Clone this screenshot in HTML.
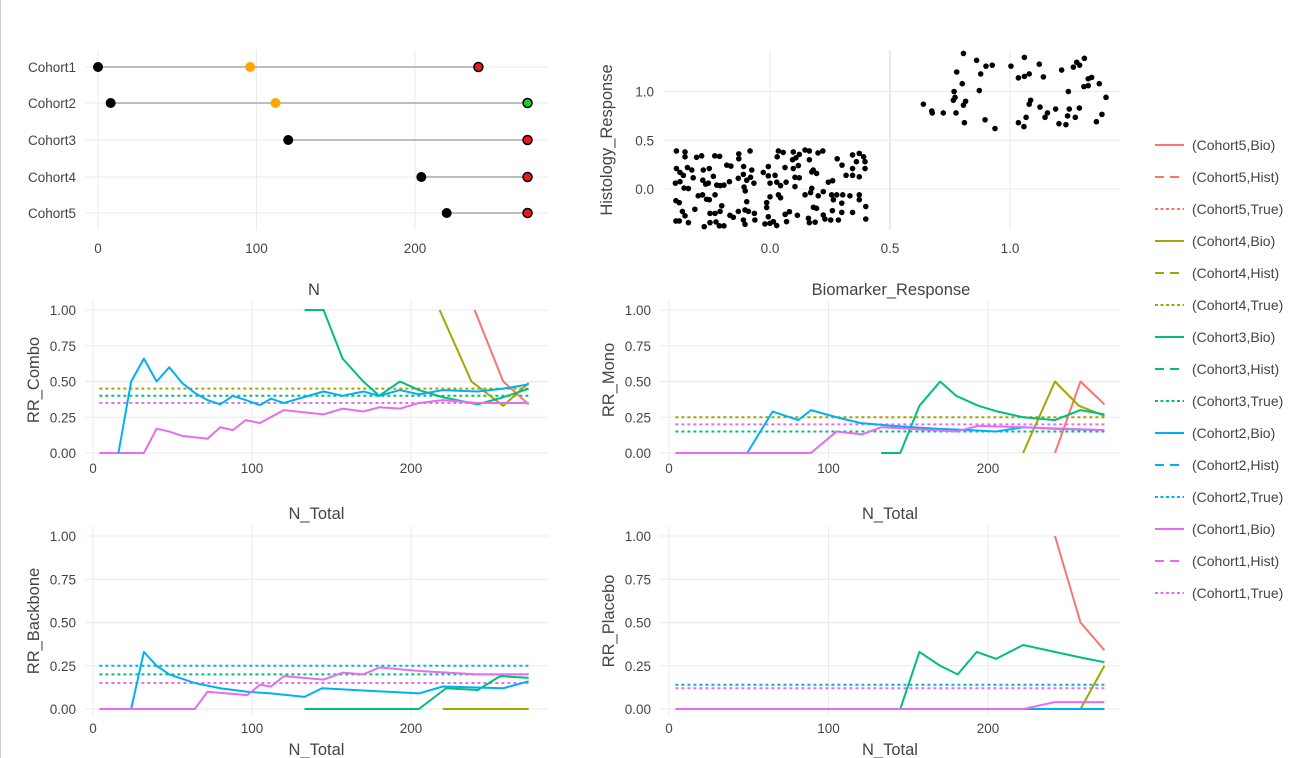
<!DOCTYPE html>
<html><head><meta charset="utf-8">
<style>
html,body{margin:0;padding:0;background:#fff;}
svg{display:block;font-family:"Liberation Sans",sans-serif;}
.tick{fill:#444;font-size:13.5px;}
.ttl{fill:#444;font-size:16.5px;}
.leg{fill:#444;font-size:14px;}
</style></head>
<body>
<svg id="c" width="1300" height="758" viewBox="0 0 1300 758">
<line x1="0.5" y1="0" x2="0.5" y2="758" stroke="#ccc"/>
<g id="g"></g>
</svg>
<script>
// ---------- data ----------
const cohorts = ["Cohort1","Cohort2","Cohort3","Cohort4","Cohort5"];
const lolStart = [0, 8, 120, 204, 220];
const lolMid = [96, 112, null, null, null];
const lolEnd = [240, 271, 271, 271, 271];
const lolEndColor = ["#e41a1c","#22cc22","#e41a1c","#e41a1c","#e41a1c"];

const scatterX = [
.806,.861,.90,.926,.778,.878,.801,.767,.872,.771,.764,.815,.806,.639,.674,.676,.722,.775,.81,.896,.9375,
1.004,1.06,1.122,1.035,1.06,1.08,1.139,1.215,1.264,1.278,1.29,1.31,1.326,1.34,1.308,1.326,1.372,1.243,1.40,1.086,1.08,1.125,1.19,1.156,1.146,1.247,1.289,1.24,1.272,1.067,1.035,1.058,1.204,1.233,1.36,1.383,
-.39,-.354,-.306,-.285,-.23,-.21,-.13,-.083,.035,.055,.097,.122,.146,.164,.20,.22,.28,.344,.372,.39,
-.354,-.13,-.18,-.163,-.11,-.076,-.007,.03,.094,.108,.164,.30,.36,.396,.0625,.097,.118,.18,.344,.396,-.278,-.253,-.344,-.326,-.39,-.375,
-.361,-.32,-.236,-.28,-.268,-.257,-.222,-.208,-.192,-.169,-.132,-.111,-.097,-.081,-.067,-.028,-.007,.021,0,.028,.044,.067,.104,.122,.174,.194,.243,.261,.317,.344,.372,-.394,-.375,-.358,-.34,-.108,-.103,.104,
-.299,-.281,-.264,-.253,-.229,-.097,0,.035,.044,.146,.174,.169,.201,.222,.257,.278,.303,.333,.372,.372,.299,.264,-.392,-.378,-.014,.181,.194,.399,
-.365,-.354,-.313,-.25,-.229,-.208,-.201,-.167,-.153,-.132,-.104,-.090,-.065,-.111,-.063,-.104,-.014,-.007,.014,.028,0,-.021,.063,.081,.069,.114,.160,.164,.188,.222,.229,.253,.285,.260,.299,.344,.399,-.392,-.378,-.340,-.274,-.250,-.225,-.211,-.192];
const scatterY = [
1.39,1.32,1.26,1.27,1.20,1.18,1.08,1.00,1.01,.94,.91,.90,.86,.87,.80,.78,.78,.78,.68,.71,.62,
1.26,1.35,1.28,1.14,1.155,1.18,1.15,1.22,1.25,1.30,1.27,1.34,1.13,1.145,1.05,1.06,1.08,1.00,.94,.91,.87,.84,.82,.78,.735,.82,.83,.75,.735,.735,.68,.64,.67,.66,.69,.765,
.39,.38,.325,.34,.34,.335,.36,.39,.39,.375,.38,.355,.40,.39,.37,.39,.31,.35,.365,.33,
.33,.31,.245,.235,.23,.195,.23,.33,.30,.32,.30,.245,.28,.28,.22,.21,.24,.195,.21,.21,.195,.21,.22,.195,.21,.17,
.14,.115,.13,.09,.05,.06,.04,.035,.04,.075,.11,.15,.09,.12,.06,.17,.135,.14,.06,.07,.035,.07,.12,.115,.175,.16,.07,.085,.14,.14,.125,.06,.075,.01,.005,.02,-.02,.025,
-.07,-.06,-.105,-.11,-.06,-.13,-.08,-.06,-.09,-.06,.007,-.037,-.07,-.027,-.06,-.06,-.06,-.07,-.06,-.11,-.145,-.11,-.12,-.14,-.14,-.188,-.198,-.18,
-.23,-.275,-.208,-.25,-.25,-.23,-.172,-.27,-.29,-.23,-.215,-.23,-.25,-.318,-.318,-.362,-.19,-.285,-.335,-.375,-.352,-.358,-.26,-.233,-.335,-.27,-.30,-.345,-.34,-.267,-.308,-.318,-.318,-.222,-.24,-.24,-.308,-.328,-.328,-.345,-.386,-.345,-.338,-.378,-.378];

// Combo (RR_Combo)
const comboC1x=[4,16,32,40,48,56,64,72,80,88,96,105,120,145,157,170,180,193,205,220,242,274];
const comboC1y=[0,0,0,.17,.15,.12,.11,.10,.18,.16,.23,.21,.30,.27,.31,.29,.32,.31,.35,.37,.35,.35];
const comboC2x=[16,24,32,40,48,56,64,72,80,88,96,105,112,120,145,157,170,180,193,205,220,242,258,274];
const comboC2y=[0,.50,.66,.50,.60,.49,.42,.37,.34,.40,.37,.335,.38,.35,.43,.40,.43,.40,.44,.41,.44,.43,.45,.48];
const comboC3x=[133,145,157,170,180,193,205,220,242,258,274];
const comboC3y=[1.0,1.0,.66,.50,.40,.50,.44,.39,.34,.39,.45];
const comboC4x=[218,238,258,274];
const comboC4y=[1.0,.50,.33,.49];
const comboC5x=[240,258,274];
const comboC5y=[1.0,.50,.34];
// Mono
const monoC1x=[4,89,105,121,133,151,180,194,222,273];
const monoC1y=[0,0,.15,.13,.18,.17,.15,.19,.18,.16];
const monoC2x=[4,49,65,81,89,105,120,140,168,189,205,222,241,273];
const monoC2y=[0,0,.29,.23,.30,.25,.21,.19,.17,.16,.15,.18,.17,.16];
const monoC3x=[133,145,157,170,180,194,206,222,242,258,273];
const monoC3y=[0,0,.33,.50,.40,.33,.29,.25,.23,.30,.27];
const monoC4x=[222,242,257,273];
const monoC4y=[0,.50,.33,.26];
const monoC5x=[242,258,273];
const monoC5y=[0,.50,.34];
// Backbone
const bbC1x=[4,64,72,97,105,112,120,145,157,170,180,205,242,274];
const bbC1y=[0,0,.10,.08,.14,.13,.19,.17,.21,.20,.24,.22,.20,.20];
const bbC2x=[4,24,32,40,48,64,80,97,112,133,144,205,220,258,274];
const bbC2y=[0,0,.33,.25,.20,.15,.12,.10,.09,.07,.12,.09,.13,.12,.16];
const bbC3x=[133,205,222,242,256,274];
const bbC3y=[0,0,.12,.11,.19,.18];
const bbC4x=[220,274];
const bbC4y=[0,0];
// Placebo
const plC1x=[4,222,242,273];
const plC1y=[0,0,.04,.04];
const plC2x=[4,273];
const plC2y=[0,0];
const plC3x=[133,145,157,170,181,193,205,222,257,273];
const plC3y=[0,0,.33,.25,.20,.33,.29,.37,.30,.27];
const plC4x=[222,258,273];
const plC4y=[0,0,.25];
const plC5x=[242,258,273];
const plC5y=[1.0,.50,.34];

const colors={C1:"#E76BF3",C2:"#00B0F6",C3:"#00BF7D",C4:"#A3A500",C5:"#F8766D"};
const NS="http://www.w3.org/2000/svg";
const G=document.getElementById('g');
function mk(tag,attrs,parent){const e=document.createElementNS(NS,tag);for(const k in attrs)e.setAttribute(k,attrs[k]);(parent||G).appendChild(e);return e;}
function txt(x,y,s,cls,anchor,parent){const t=mk('text',{x:x,y:y,class:cls,'text-anchor':anchor||'middle'},parent);t.textContent=s;return t;}

// ---------- Panel 1 lollipop ----------
const p1x=n=>98+n*1.585;
const p1rows=[67,103,140,177,213];
[0,100,200].forEach(v=>{const l=mk('line',{x1:p1x(v),x2:p1x(v),y1:50,y2:230,stroke:'#ebebeb'});


const t=txt(p1x(v),253,String(v),'tick');

});
cohorts.forEach((c,i)=>{const y=p1rows[i];
const gl=mk('line',{x1:85,x2:548,y1:y,y2:y,stroke:'#ebebeb'});


const t=txt(76,y+5,c,'tick','end');

});
cohorts.forEach((c,i)=>{const y=p1rows[i];
const seg=mk('line',{x1:p1x(lolStart[i]),x2:p1x(lolEnd[i]),y1:y,y2:y,stroke:'#bdbdbd','stroke-width':2});


const s=mk('circle',{cx:p1x(lolStart[i]),cy:y,r:5,fill:'#000'});


if(lolMid[i]!==null){const m=mk('circle',{cx:p1x(lolMid[i]),cy:y,r:5,fill:'#FFA500'});

}
const e=mk('circle',{cx:p1x(lolEnd[i]),cy:y,r:4.5,fill:lolEndColor[i],stroke:'#000','stroke-width':1.5});

});
const t1=txt(314,295,'N','ttl');



// ---------- Panel 2 scatter ----------
const p2x=v=>770+v*240, p2y=v=>189-v*97.5;
[0,0.5,1.0].forEach(v=>{const l=mk('line',{x1:p2x(v),x2:p2x(v),y1:50,y2:230,stroke:v===0.5?'#e2e2e2':'#ebebeb','stroke-width':v===0.5?1.5:1});


const t=txt(p2x(v),253,v.toFixed(1),'tick');


const h=mk('line',{x1:665,x2:1120,y1:p2y(v),y2:p2y(v),stroke:'#ebebeb'});


const ty=txt(654,p2y(v)+5,v.toFixed(1),'tick','end');

});
scatterX.forEach((x,i)=>{const d=mk('circle',{cx:p2x(x),cy:p2y(scatterY[i]),r:2.8,fill:'#000'});

});
const t2=txt(891,295,'Biomarker_Response','ttl');


const t2y=txt(0,0,'Histology_Response','ttl');
t2y.setAttribute('transform','translate(612,140) rotate(-90)');



// ---------- line panels ----------
function panel(cfg){
 const X=n=>cfg.x0+n*cfg.xs, Y=v=>cfg.y0-v*cfg.ys;
 const cid='clip'+cfg.id;
 const cp=mk('clipPath',{id:cid});
 mk('rect',{x:cfg.left,y:cfg.top-2,width:cfg.right-cfg.left,height:cfg.bottom-cfg.top+4},cp);
 [0,100,200].forEach(v=>{const l=mk('line',{x1:X(v),x2:X(v),y1:cfg.top,y2:cfg.bottom,stroke:'#ebebeb'});
 
 
 const t=txt(X(v),cfg.tickY,String(v),'tick');
 
 });
 [0,0.25,0.5,0.75,1].forEach(v=>{const l=mk('line',{x1:cfg.left,x2:cfg.right,y1:Y(v),y2:Y(v),stroke:'#ebebeb',"stroke-width":v===0.5?1.5:1});
 
 
 const t=txt(cfg.left-9,Y(v)+5,v.toFixed(2),'tick','end');
 
 });
 const gg=mk('g',{'clip-path':'url(#'+cid+')'});
 cfg.trues.forEach(tr=>{const l=mk('line',{x1:X(4),x2:X(274),y1:Y(tr[1]),y2:Y(tr[1]),stroke:colors[tr[0]],'stroke-width':2,'stroke-dasharray':'3,3'},gg);
 
 });
 cfg.series.forEach(s=>{const pts=s[1].map((n,i)=>X(n)+','+Y(s[2][i])).join(' ');
 const p=mk('polyline',{points:pts,fill:'none',stroke:colors[s[0]],'stroke-width':2,'stroke-linejoin':'round'},gg);
 
 });
 const tx=txt((cfg.left+cfg.right)/2,cfg.titleY,'N_Total','ttl');
 
 
 const ty=txt(0,0,cfg.ytitle,'ttl');
 ty.setAttribute('transform','translate('+(cfg.left-46)+','+((cfg.top+cfg.bottom)/2)+') rotate(-90)');
 
 
}
panel({id:'combo',left:85,right:548,top:300,bottom:460,x0:93,xs:1.59,y0:453,ys:143,tickY:473,titleY:519,ytitle:'RR_Combo',
 trues:[['C4',.45],['C3',.40],['C1',.35]],
 series:[['C5',comboC5x,comboC5y],['C4',comboC4x,comboC4y],['C3',comboC3x,comboC3y],['C1',comboC1x,comboC1y],['C2',comboC2x,comboC2y]]});
panel({id:'mono',left:660,right:1120,top:300,bottom:460,x0:669,xs:1.595,y0:453,ys:143,tickY:473,titleY:519,ytitle:'RR_Mono',
 trues:[['C4',.25],['C1',.20],['C3',.15]],
 series:[['C5',monoC5x,monoC5y],['C4',monoC4x,monoC4y],['C3',monoC3x,monoC3y],['C2',monoC2x,monoC2y],['C1',monoC1x,monoC1y]]});
panel({id:'backbone',left:85,right:548,top:526,bottom:716,x0:93,xs:1.59,y0:709,ys:173,tickY:733,titleY:755,ytitle:'RR_Backbone',
 trues:[['C2',.25],['C3',.20],['C1',.15]],
 series:[['C4',bbC4x,bbC4y],['C3',bbC3x,bbC3y],['C2',bbC2x,bbC2y],['C1',bbC1x,bbC1y]]});
panel({id:'placebo',left:660,right:1120,top:526,bottom:716,x0:669,xs:1.595,y0:709,ys:173,tickY:733,titleY:755,ytitle:'RR_Placebo',
 trues:[['C2',.14],['C1',.12]],
 series:[['C5',plC5x,plC5y],['C4',plC4x,plC4y],['C3',plC3x,plC3y],['C2',plC2x,plC2y],['C1',plC1x,plC1y]]});

// ---------- legend ----------
const legKeys=['C5','C4','C3','C2','C1'];
const legTypes=['Bio','Hist','True'];
let li=0;
legKeys.forEach(k=>{legTypes.forEach(tp=>{const y=145+li*32;
 const l=mk('line',{x1:1155,x2:1184,y1:y,y2:y,stroke:colors[k],'stroke-width':2});
 if(tp==='Hist')l.setAttribute('stroke-dasharray','9,6');
 if(tp==='True')l.setAttribute('stroke-dasharray','3,2.5');
 
 
 const t=txt(1192,y+5,'(Cohort'+k.slice(1)+','+tp+')','leg','start');
 
 
 li++;});});
</script>
</body></html>
